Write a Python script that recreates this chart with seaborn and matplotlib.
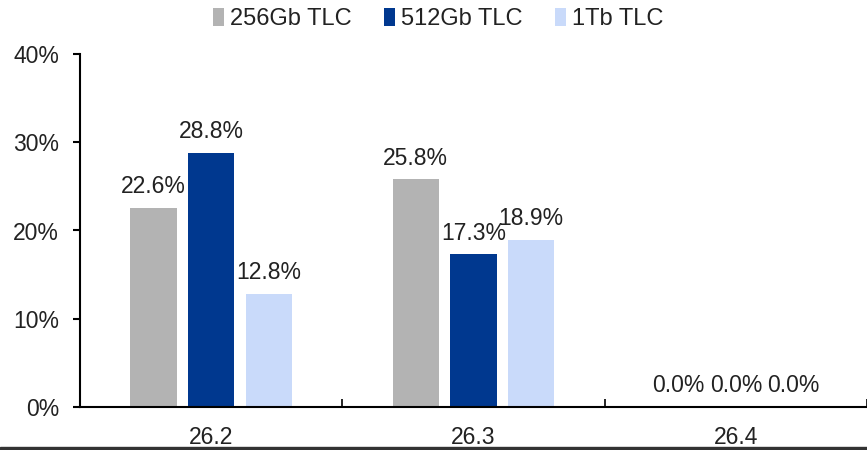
import matplotlib
matplotlib.use("Agg")
import matplotlib.pyplot as plt
import pandas as pd
import seaborn as sns
from matplotlib.patches import Rectangle
from matplotlib.ticker import FixedLocator, FuncFormatter

periods = ["26.2", "26.3", "26.4"]
series_names = ["256Gb TLC", "512Gb TLC", "1Tb TLC"]
tlc_256 = [22.6, 25.8, 0.0]
tlc_512 = [28.8, 17.3, 0.0]
tlc_1tb = [12.8, 18.9, 0.0]
colors = ["#b3b3b3", "#00388f", "#c9dafa"]

rows = []
for name, vals in zip(series_names, [tlc_256, tlc_512, tlc_1tb]):
    for p, v in zip(periods, vals):
        rows.append({"period": p, "series": name, "value": v})
df = pd.DataFrame(rows)

sns.set_style("white")
plt.rcParams["font.family"] = ["Liberation Sans", "DejaVu Sans"]

fig = plt.figure(figsize=(8.67, 4.5), dpi=100)
ax = fig.add_axes([80 / 867, 1 - 407 / 450, 1 - 80 / 867, (407 - 54) / 450])

sns.barplot(data=df, x="period", y="value", hue="series", palette=colors,
            saturation=1, width=0.66, gap=0.2, linewidth=0, ax=ax, legend=True)

for cont in ax.containers:
    ax.bar_label(cont, labels=[f"{b.get_height():.1f}%" for b in cont],
                 padding=7, fontsize=16.5, color="#222222")

ax.set_ylim(0, 40)
ax.set_xlim(-0.5, 2.5)
ax.set_yticks([0, 10, 20, 30, 40])
ax.yaxis.set_major_formatter(FuncFormatter(lambda v, _: f"{v:.0f}%"))
ax.set_xlabel("")
ax.set_ylabel("")

for side in ["top", "right"]:
    ax.spines[side].set_visible(False)
for side in ["left", "bottom"]:
    ax.spines[side].set_color("black")
    ax.spines[side].set_linewidth(1.5)

ax.tick_params(axis="y", left=True, direction="out", length=5, width=1.5,
               labelsize=16.5, pad=10, colors="black", labelcolor="#222222")
ax.tick_params(axis="x", which="major", bottom=False, length=0, labelsize=16.5,
               pad=14, labelcolor="#222222")
ax.xaxis.set_minor_locator(FixedLocator([0.5, 1.5, 2.5]))
ax.tick_params(axis="x", which="minor", bottom=True, direction="in", length=6,
               width=1.2, colors="black")

handles, labels = ax.get_legend_handles_labels()
ax.legend(handles, labels, loc="upper center", bbox_to_anchor=(0.455, 1.19),
          ncol=3, frameon=False, fontsize=17, handlelength=0.45,
          handleheight=0.8, handletextpad=0.25, columnspacing=1.4)
for t in ax.get_legend().get_texts():
    t.set_color("#222222")

# dark strip at the very bottom of the image
fig.add_artist(Rectangle((0, 0), 1, 3 / 450, transform=fig.transFigure,
                         color="#333333", zorder=10))

fig.savefig("out.png", dpi=100)
plt.close(fig)
